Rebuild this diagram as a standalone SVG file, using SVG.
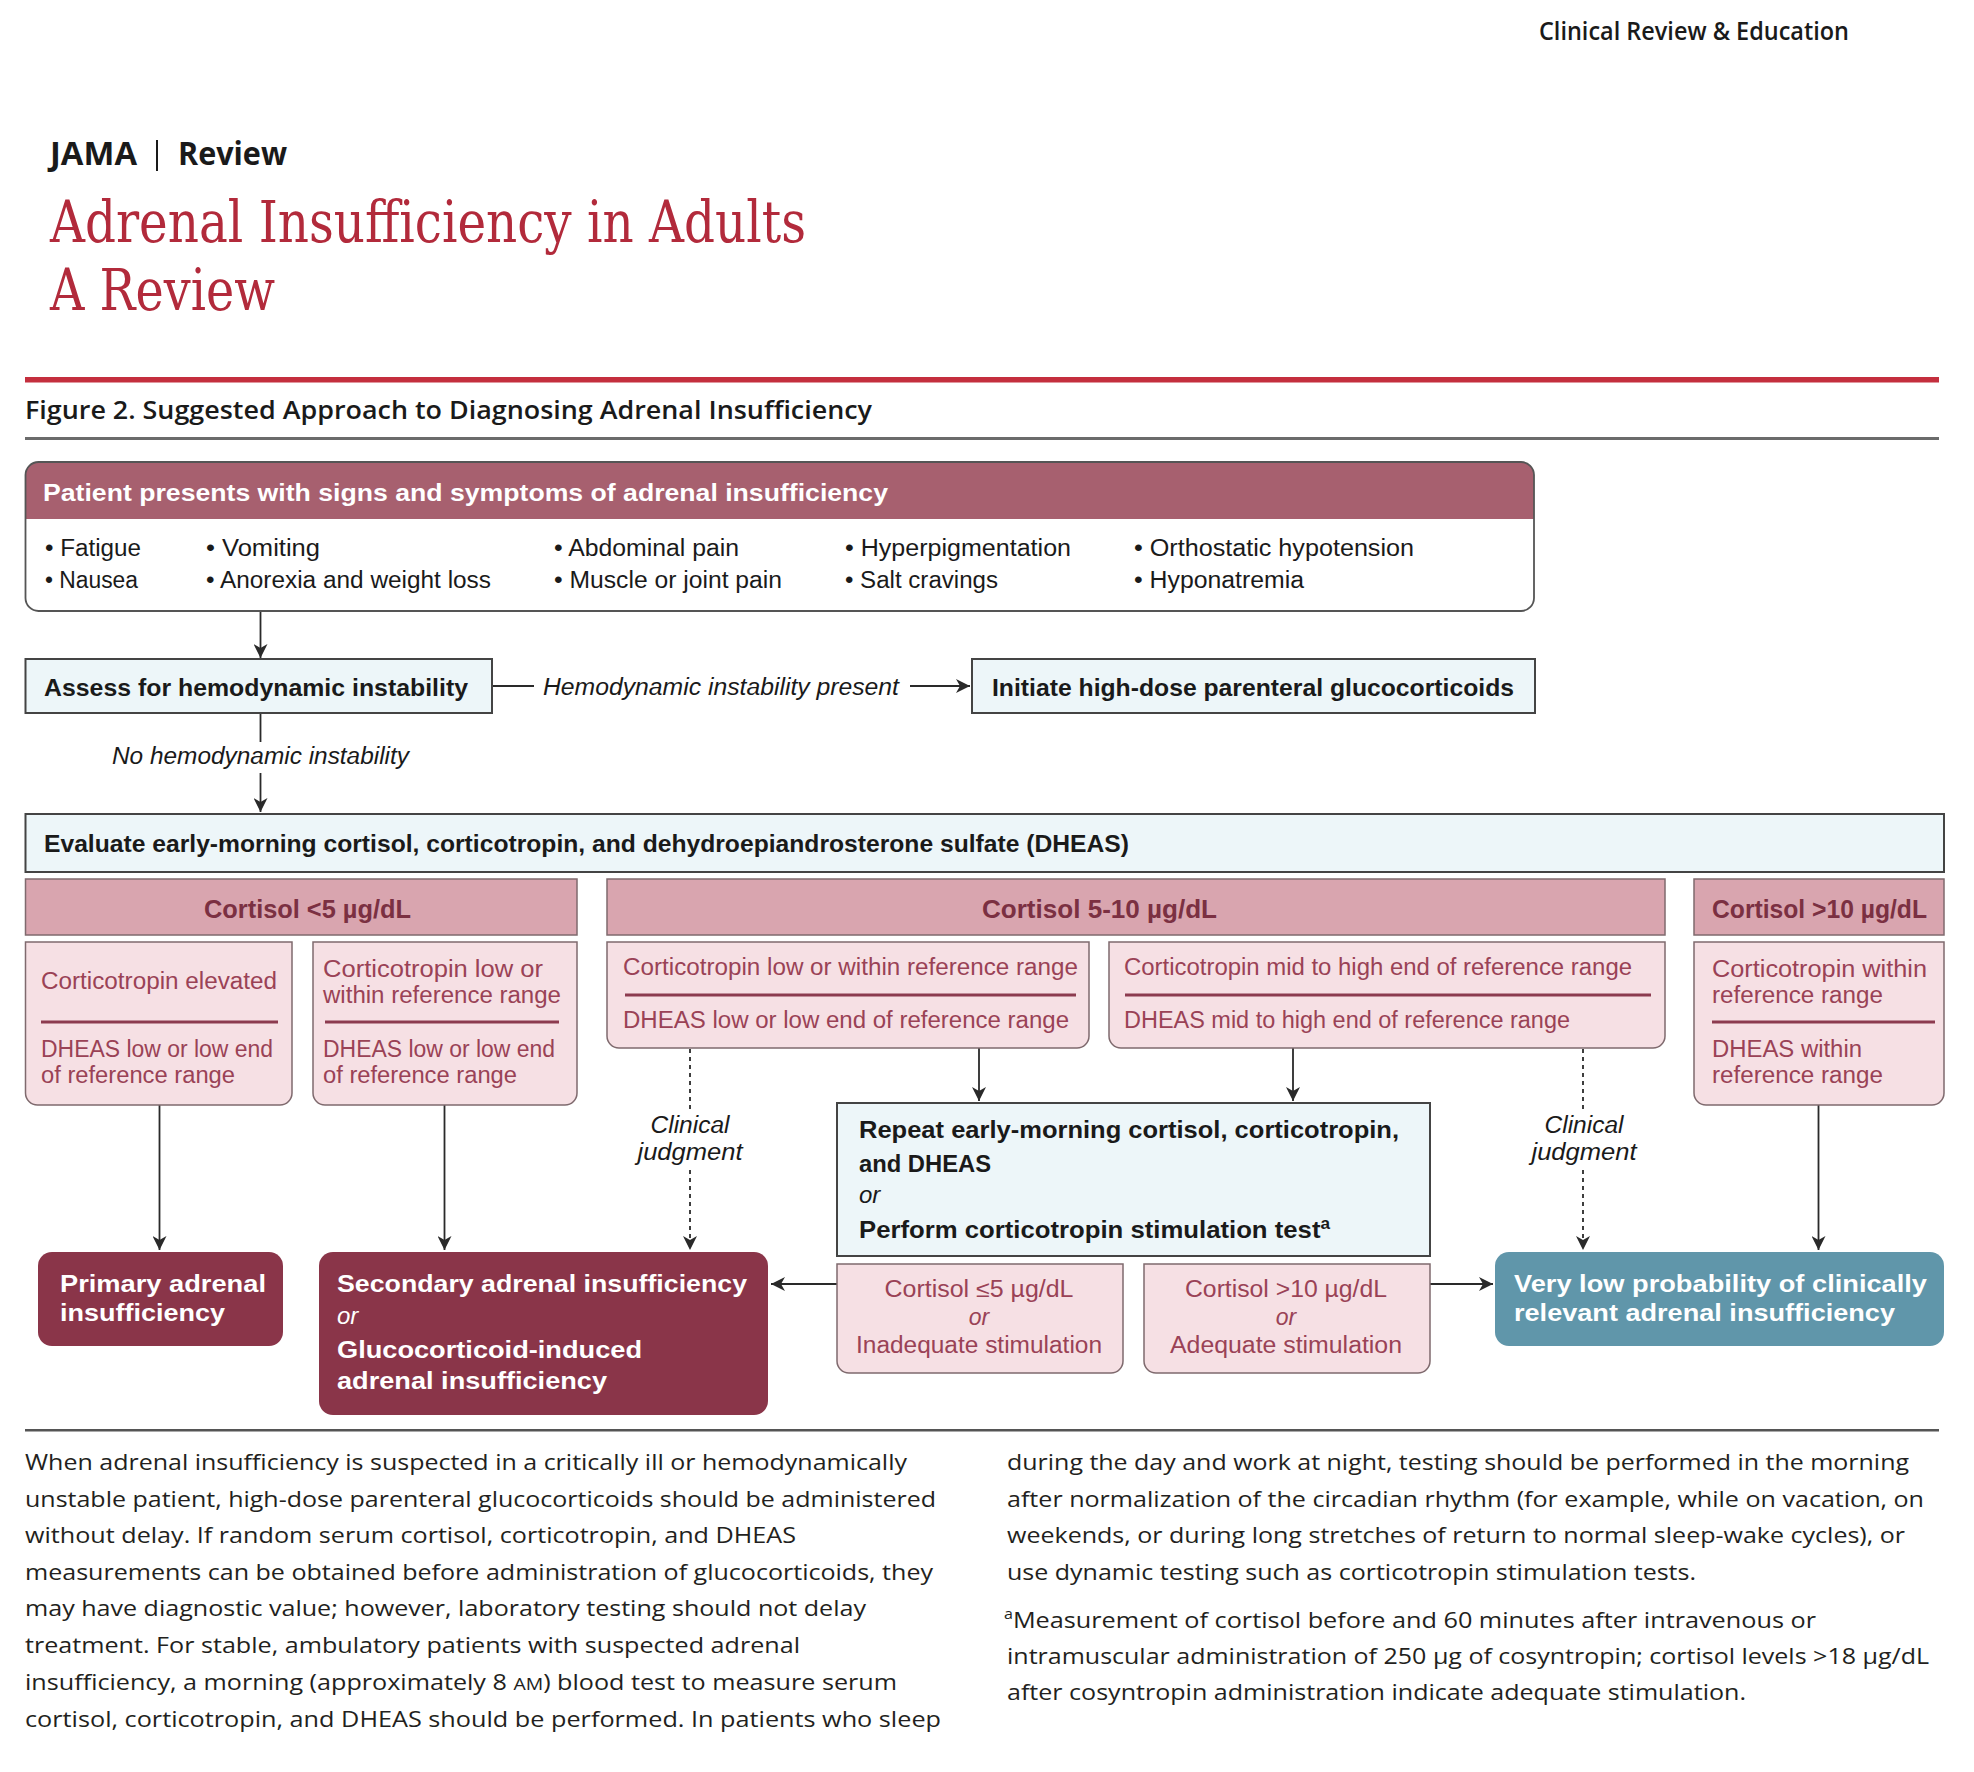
<svg xmlns="http://www.w3.org/2000/svg" width="1974" height="1772" viewBox="0 0 1974 1772">
<style>
text{font-family:"Liberation Sans","Arial","Noto Sans",sans-serif;}
.os{font-family:"Open Sans","Noto Sans","Liberation Sans",sans-serif;}
.serif{font-family:"DejaVu Serif","Liberation Serif",serif;fill:#B22A3B;font-size:58px;}
.b{font-weight:700;}
.sb{font-weight:600;}
.node{font-size:24px;font-weight:700;fill:#1a1a1a;}
.wt{font-size:24px;font-weight:700;fill:#ffffff;}
.bul{font-size:23px;fill:#1a1a1a;}
.lab{font-size:23px;font-style:italic;fill:#1a1a1a;}
.hd{font-size:25px;font-weight:700;fill:#7B3042;}
.pk{font-size:23px;fill:#9A4256;}
.body{font-family:"Open Sans","Noto Sans","Liberation Sans",sans-serif;font-size:22px;fill:#231f20;}
.blue{fill:#EDF6F9;stroke:#444;stroke-width:2;}
.pinkh{fill:#D9A5AF;stroke:#7f6a6e;stroke-width:1.5;}
.pinkb{fill:#F6E0E4;stroke:#7f6a6e;stroke-width:1.5;}
.div{stroke:#8C3B4F;stroke-width:3;}
.maroon{fill:#8A3549;}
.teal{fill:#6096AA;}
.conn line{stroke:#2a2a2a;stroke-width:1.8;fill:none;}
.conn .dash{stroke-dasharray:4 4;}
</style>
<defs>
<marker id="ah" viewBox="0 0 14 14" refX="14" refY="7" markerWidth="14" markerHeight="14" markerUnits="userSpaceOnUse" orient="auto">
<path d="M0,0 L14,7 L0,14 L4,7 Z" fill="#2a2a2a"/>
</marker>
</defs>
<rect x="0" y="0" width="1974" height="1772" fill="#ffffff"/>

<g id="masthead">
<text x="1539" y="40" class="os sb" font-size="25" fill="#1a1a1a" textLength="310" lengthAdjust="spacingAndGlyphs">Clinical Review &amp; Education</text>
<text x="50" y="165" class="os b" font-size="32" fill="#1a1a1a" textLength="87" lengthAdjust="spacingAndGlyphs">JAMA</text>
<line x1="157" y1="140" x2="157" y2="171" stroke="#1a1a1a" stroke-width="2"/>
<text x="178" y="165" class="os b" font-size="32" fill="#1a1a1a" textLength="109" lengthAdjust="spacingAndGlyphs">Review</text>
<text x="50" y="242" class="serif" textLength="756" lengthAdjust="spacingAndGlyphs">Adrenal Insufficiency in Adults</text>
<text x="50" y="310" class="serif" textLength="225" lengthAdjust="spacingAndGlyphs">A Review</text>
<rect x="25" y="377" width="1914" height="5.5" fill="#C42F3E"/>
<text x="25" y="419" class="os sb" font-size="26" fill="#1a1a1a" textLength="847" lengthAdjust="spacingAndGlyphs">Figure 2. Suggested Approach to Diagnosing Adrenal Insufficiency</text>
<rect x="25" y="437" width="1914" height="3" fill="#6b6b6b"/>
</g>

<g id="connectors" class="conn">
<line x1="260.5" y1="611" x2="260.5" y2="658" marker-end="url(#ah)"/>
<line x1="492" y1="686" x2="534" y2="686"/>
<line x1="910" y1="686" x2="970" y2="686" marker-end="url(#ah)"/>
<line x1="260.5" y1="713" x2="260.5" y2="742"/>
<line x1="260.5" y1="773" x2="260.5" y2="812" marker-end="url(#ah)"/>
<line x1="159.5" y1="1105" x2="159.5" y2="1250" marker-end="url(#ah)"/>
<line x1="444.5" y1="1105" x2="444.5" y2="1250" marker-end="url(#ah)"/>
<line class="dash" x1="690" y1="1049" x2="690" y2="1110"/>
<line class="dash" x1="690" y1="1170" x2="690" y2="1250" marker-end="url(#ah)"/>
<line x1="979" y1="1048" x2="979" y2="1101" marker-end="url(#ah)"/>
<line x1="1293" y1="1048" x2="1293" y2="1101" marker-end="url(#ah)"/>
<line class="dash" x1="1583" y1="1049" x2="1583" y2="1110"/>
<line class="dash" x1="1583" y1="1170" x2="1583" y2="1250" marker-end="url(#ah)"/>
<line x1="1818.5" y1="1105" x2="1818.5" y2="1250" marker-end="url(#ah)"/>
<line x1="837" y1="1284" x2="771" y2="1284" marker-end="url(#ah)"/>
<line x1="1430" y1="1284" x2="1493" y2="1284" marker-end="url(#ah)"/>
<text x="543" y="695" class="lab" textLength="356" lengthAdjust="spacingAndGlyphs">Hemodynamic instability present</text>
<text x="112" y="764" class="lab" textLength="297" lengthAdjust="spacingAndGlyphs">No hemodynamic instability</text>
<text x="690" y="1133" class="lab" text-anchor="middle" textLength="79" lengthAdjust="spacingAndGlyphs">Clinical</text>
<text x="690" y="1160" class="lab" text-anchor="middle" textLength="105" lengthAdjust="spacingAndGlyphs">judgment</text>
<text x="1584" y="1133" class="lab" text-anchor="middle" textLength="79" lengthAdjust="spacingAndGlyphs">Clinical</text>
<text x="1584" y="1160" class="lab" text-anchor="middle" textLength="105" lengthAdjust="spacingAndGlyphs">judgment</text>
</g>

<g id="n-present">
<rect x="25.5" y="462" width="1508.5" height="149" rx="13" fill="#ffffff"/>
<path d="M25.5 519 V475 A13 13 0 0 1 38.5 462 H1521 A13 13 0 0 1 1534 475 V519 Z" fill="#A7606F"/>
<rect x="25.5" y="462" width="1508.5" height="149" rx="13" fill="none" stroke="#555" stroke-width="1.8"/>
<text x="43" y="501" class="wt" textLength="845" lengthAdjust="spacingAndGlyphs">Patient presents with signs and symptoms of adrenal insufficiency</text>
<text x="45" y="556" class="bul" textLength="96" lengthAdjust="spacingAndGlyphs">• Fatigue</text>
<text x="45" y="588" class="bul" textLength="93" lengthAdjust="spacingAndGlyphs">• Nausea</text>
<text x="206" y="556" class="bul" textLength="114" lengthAdjust="spacingAndGlyphs">• Vomiting</text>
<text x="206" y="588" class="bul" textLength="285" lengthAdjust="spacingAndGlyphs">• Anorexia and weight loss</text>
<text x="554" y="556" class="bul" textLength="185" lengthAdjust="spacingAndGlyphs">• Abdominal pain</text>
<text x="554" y="588" class="bul" textLength="228" lengthAdjust="spacingAndGlyphs">• Muscle or joint pain</text>
<text x="845" y="556" class="bul" textLength="226" lengthAdjust="spacingAndGlyphs">• Hyperpigmentation</text>
<text x="845" y="588" class="bul" textLength="153" lengthAdjust="spacingAndGlyphs">• Salt cravings</text>
<text x="1134" y="556" class="bul" textLength="280" lengthAdjust="spacingAndGlyphs">• Orthostatic hypotension</text>
<text x="1134" y="588" class="bul" textLength="170" lengthAdjust="spacingAndGlyphs">• Hyponatremia</text>
</g>

<g id="n-assess">
<rect x="25.5" y="659" width="466.5" height="54" class="blue"/>
<text x="44" y="696" class="node" textLength="424" lengthAdjust="spacingAndGlyphs">Assess for hemodynamic instability</text>
</g>

<g id="n-initiate">
<rect x="972" y="659" width="563" height="54" class="blue"/>
<text x="992" y="696" class="node" textLength="522" lengthAdjust="spacingAndGlyphs">Initiate high-dose parenteral glucocorticoids</text>
</g>

<g id="n-evaluate">
<rect x="25.5" y="814" width="1918.5" height="58" class="blue"/>
<text x="44" y="852" class="node" textLength="1085" lengthAdjust="spacingAndGlyphs">Evaluate early-morning cortisol, corticotropin, and dehydroepiandrosterone sulfate (DHEAS)</text>
</g>

<g id="h-lt5">
<rect x="25.5" y="879" width="551.5" height="56" class="pinkh"/>
<text x="204" y="918" class="hd" textLength="207" lengthAdjust="spacingAndGlyphs">Cortisol &lt;5 µg/dL</text>
</g>
<g id="h-5to10">
<rect x="607" y="879" width="1058" height="56" class="pinkh"/>
<text x="982" y="918" class="hd" textLength="235" lengthAdjust="spacingAndGlyphs">Cortisol 5-10 µg/dL</text>
</g>
<g id="h-gt10">
<rect x="1694" y="879" width="250" height="56" class="pinkh"/>
<text x="1712" y="918" class="hd" textLength="215" lengthAdjust="spacingAndGlyphs">Cortisol &gt;10 µg/dL</text>
</g>

<g id="n-a">
<path d="M25.5 942 H292 V1093 A12 12 0 0 1 280 1105 H37.5 A12 12 0 0 1 25.5 1093 Z" class="pinkb"/>
<text x="41" y="989" class="pk" textLength="236" lengthAdjust="spacingAndGlyphs">Corticotropin elevated</text>
<line x1="41" y1="1022" x2="278" y2="1022" class="div"/>
<text x="41" y="1057" class="pk" textLength="232" lengthAdjust="spacingAndGlyphs">DHEAS low or low end</text>
<text x="41" y="1083" class="pk" textLength="194" lengthAdjust="spacingAndGlyphs">of reference range</text>
</g>

<g id="n-b">
<path d="M313 942 H577 V1093 A12 12 0 0 1 565 1105 H325 A12 12 0 0 1 313 1093 Z" class="pinkb"/>
<text x="323" y="977" class="pk" textLength="220" lengthAdjust="spacingAndGlyphs">Corticotropin low or</text>
<text x="323" y="1003" class="pk" textLength="238" lengthAdjust="spacingAndGlyphs">within reference range</text>
<line x1="325" y1="1022" x2="559" y2="1022" class="div"/>
<text x="323" y="1057" class="pk" textLength="232" lengthAdjust="spacingAndGlyphs">DHEAS low or low end</text>
<text x="323" y="1083" class="pk" textLength="194" lengthAdjust="spacingAndGlyphs">of reference range</text>
</g>

<g id="n-c">
<path d="M607 942 H1089 V1036 A12 12 0 0 1 1077 1048 H619 A12 12 0 0 1 607 1036 Z" class="pinkb"/>
<text x="623" y="975" class="pk" textLength="455" lengthAdjust="spacingAndGlyphs">Corticotropin low or within reference range</text>
<line x1="625" y1="995" x2="1076" y2="995" class="div"/>
<text x="623" y="1028" class="pk" textLength="446" lengthAdjust="spacingAndGlyphs">DHEAS low or low end of reference range</text>
</g>

<g id="n-d">
<path d="M1109 942 H1665 V1036 A12 12 0 0 1 1653 1048 H1121 A12 12 0 0 1 1109 1036 Z" class="pinkb"/>
<text x="1124" y="975" class="pk" textLength="508" lengthAdjust="spacingAndGlyphs">Corticotropin mid to high end of reference range</text>
<line x1="1125" y1="995" x2="1651" y2="995" class="div"/>
<text x="1124" y="1028" class="pk" textLength="446" lengthAdjust="spacingAndGlyphs">DHEAS mid to high end of reference range</text>
</g>

<g id="n-e">
<path d="M1694 942 H1944 V1093 A12 12 0 0 1 1932 1105 H1706 A12 12 0 0 1 1694 1093 Z" class="pinkb"/>
<text x="1712" y="977" class="pk" textLength="215" lengthAdjust="spacingAndGlyphs">Corticotropin within</text>
<text x="1712" y="1003" class="pk" textLength="171" lengthAdjust="spacingAndGlyphs">reference range</text>
<line x1="1712" y1="1022" x2="1935" y2="1022" class="div"/>
<text x="1712" y="1057" class="pk" textLength="150" lengthAdjust="spacingAndGlyphs">DHEAS within</text>
<text x="1712" y="1083" class="pk" textLength="171" lengthAdjust="spacingAndGlyphs">reference range</text>
</g>

<g id="n-repeat">
<rect x="837" y="1103" width="593" height="153" class="blue"/>
<text x="859" y="1138" class="node" textLength="540" lengthAdjust="spacingAndGlyphs">Repeat early-morning cortisol, corticotropin,</text>
<text x="859" y="1172" class="node" textLength="132" lengthAdjust="spacingAndGlyphs">and DHEAS</text>
<text x="859" y="1203" font-size="24" font-style="italic" fill="#1a1a1a">or</text>
<text x="859" y="1238" class="node" textLength="471" lengthAdjust="spacingAndGlyphs">Perform corticotropin stimulation test<tspan font-size="16" dy="-9">a</tspan></text>
</g>

<g id="n-le5">
<path d="M837 1264 H1123 V1361 A12 12 0 0 1 1111 1373 H849 A12 12 0 0 1 837 1361 Z" class="pinkb"/>
<text x="979" y="1297" class="pk" text-anchor="middle" textLength="189" lengthAdjust="spacingAndGlyphs">Cortisol ≤5 µg/dL</text>
<text x="979" y="1325" class="pk" text-anchor="middle" font-style="italic">or</text>
<text x="979" y="1353" class="pk" text-anchor="middle" textLength="246" lengthAdjust="spacingAndGlyphs">Inadequate stimulation</text>
</g>

<g id="n-gt10">
<path d="M1144 1264 H1430 V1361 A12 12 0 0 1 1418 1373 H1156 A12 12 0 0 1 1144 1361 Z" class="pinkb"/>
<text x="1286" y="1297" class="pk" text-anchor="middle" textLength="202" lengthAdjust="spacingAndGlyphs">Cortisol &gt;10 µg/dL</text>
<text x="1286" y="1325" class="pk" text-anchor="middle" font-style="italic">or</text>
<text x="1286" y="1353" class="pk" text-anchor="middle" textLength="232" lengthAdjust="spacingAndGlyphs">Adequate stimulation</text>
</g>

<g id="n-primary">
<rect x="38" y="1252" width="245" height="94" rx="14" class="maroon"/>
<text x="60" y="1292" class="wt" textLength="206" lengthAdjust="spacingAndGlyphs">Primary adrenal</text>
<text x="60" y="1321" class="wt" textLength="165" lengthAdjust="spacingAndGlyphs">insufficiency</text>
</g>

<g id="n-secondary">
<rect x="319" y="1252" width="449" height="163" rx="14" class="maroon"/>
<text x="337" y="1292" class="wt" textLength="410" lengthAdjust="spacingAndGlyphs">Secondary adrenal insufficiency</text>
<text x="337" y="1324" font-size="24" font-style="italic" fill="#ffffff">or</text>
<text x="337" y="1358" class="wt" textLength="305" lengthAdjust="spacingAndGlyphs">Glucocorticoid-induced</text>
<text x="337" y="1389" class="wt" textLength="270" lengthAdjust="spacingAndGlyphs">adrenal insufficiency</text>
</g>

<g id="n-verylow">
<rect x="1495" y="1252" width="449" height="94" rx="14" class="teal"/>
<text x="1514" y="1292" class="wt" textLength="413" lengthAdjust="spacingAndGlyphs">Very low probability of clinically</text>
<text x="1514" y="1321" class="wt" textLength="381" lengthAdjust="spacingAndGlyphs">relevant adrenal insufficiency</text>
</g>

<g id="footer">
<rect x="25" y="1429" width="1914" height="2.5" fill="#555"/>
<text x="25" y="1470" class="body" textLength="882" lengthAdjust="spacingAndGlyphs">When adrenal insufficiency is suspected in a critically ill or hemodynamically</text>
<text x="25" y="1507" class="body" textLength="911" lengthAdjust="spacingAndGlyphs">unstable patient, high-dose parenteral glucocorticoids should be administered</text>
<text x="25" y="1543" class="body" textLength="771" lengthAdjust="spacingAndGlyphs">without delay. If random serum cortisol, corticotropin, and DHEAS</text>
<text x="25" y="1580" class="body" textLength="908" lengthAdjust="spacingAndGlyphs">measurements can be obtained before administration of glucocorticoids, they</text>
<text x="25" y="1616" class="body" textLength="841" lengthAdjust="spacingAndGlyphs">may have diagnostic value; however, laboratory testing should not delay</text>
<text x="25" y="1653" class="body" textLength="775" lengthAdjust="spacingAndGlyphs">treatment. For stable, ambulatory patients with suspected adrenal</text>
<text x="25" y="1690" class="body" textLength="872" lengthAdjust="spacingAndGlyphs">insufficiency, a morning (approximately 8 <tspan font-size="17">AM</tspan>) blood test to measure serum</text>
<text x="25" y="1727" class="body" textLength="916" lengthAdjust="spacingAndGlyphs">cortisol, corticotropin, and DHEAS should be performed. In patients who sleep</text>
<text x="1007" y="1470" class="body" textLength="902" lengthAdjust="spacingAndGlyphs">during the day and work at night, testing should be performed in the morning</text>
<text x="1007" y="1507" class="body" textLength="917" lengthAdjust="spacingAndGlyphs">after normalization of the circadian rhythm (for example, while on vacation, on</text>
<text x="1007" y="1543" class="body" textLength="898" lengthAdjust="spacingAndGlyphs">weekends, or during long stretches of return to normal sleep-wake cycles), or</text>
<text x="1007" y="1580" class="body" textLength="689" lengthAdjust="spacingAndGlyphs">use dynamic testing such as corticotropin stimulation tests.</text>
<text x="1004" y="1628" class="body" textLength="812" lengthAdjust="spacingAndGlyphs"><tspan font-size="14" dy="-9">a</tspan><tspan dy="9">Measurement of cortisol before and 60 minutes after intravenous or</tspan></text>
<text x="1007" y="1664" class="body" textLength="922" lengthAdjust="spacingAndGlyphs">intramuscular administration of 250 µg of cosyntropin; cortisol levels &gt;18 µg/dL</text>
<text x="1007" y="1700" class="body" textLength="739" lengthAdjust="spacingAndGlyphs">after cosyntropin administration indicate adequate stimulation.</text>
</g>
</svg>
